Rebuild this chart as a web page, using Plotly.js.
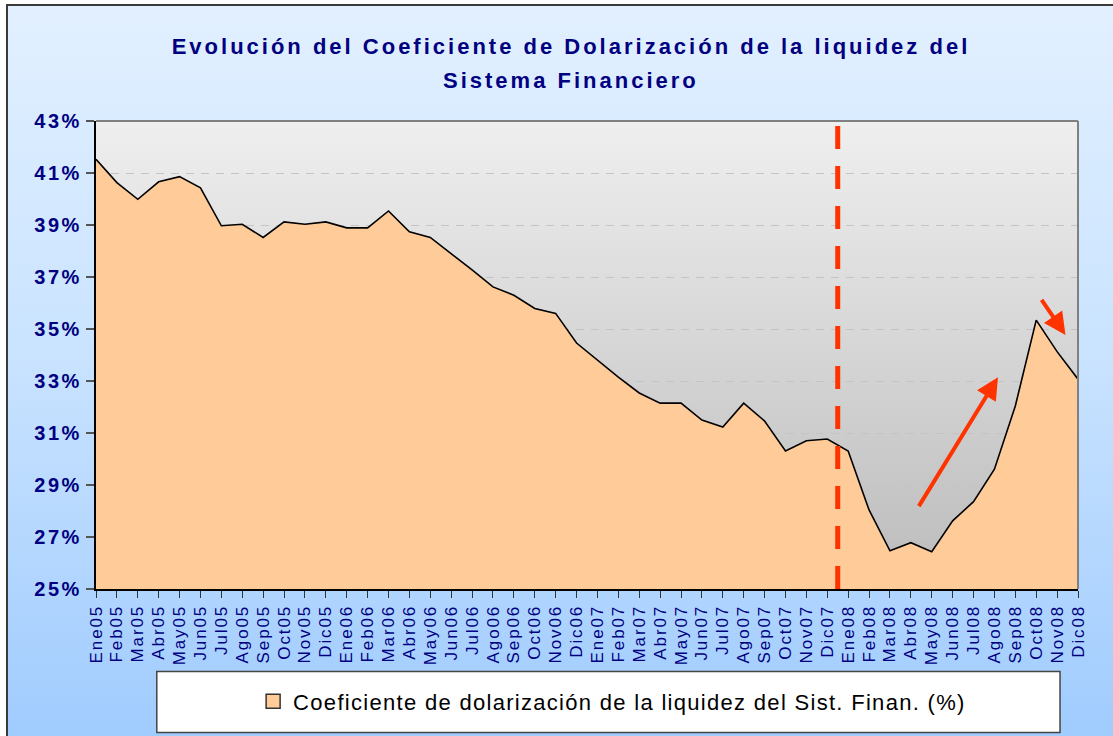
<!DOCTYPE html>
<html>
<head>
<meta charset="utf-8">
<script src="https://cdn.plot.ly/plotly-3.0.1.min.js"></script>
<style>
  html, body { margin: 0; padding: 0; width: 1113px; height: 736px; overflow: hidden; background: #ffffff; }
  #bg { position: absolute; left: 6px; top: 4px; width: 1200px; height: 800px;
        border-left: 2px solid #3a3a3a; border-top: 2px solid #3a3a3a;
        background: linear-gradient(to bottom, #E2F0FF 0px, #C9E3FF 350px, #9FCBFE 740px); }
  #chart { position: absolute; left: 0; top: 0; width: 1113px; height: 736px; }
  .gtitle { letter-spacing: 3px; font-weight: 700 !important; }
  .annotation-text { letter-spacing: 3px; font-weight: 700 !important; }
  .ytick text { letter-spacing: 2.6px; font-weight: 700 !important; }
  .xtick text { letter-spacing: 1.9px; }
  .legendtext { letter-spacing: 1.3px; }
</style>
</head>
<body>
<div id="bg"></div>
<div id="chart"></div>
<script>
const months = ['Ene05','Feb05','Mar05','Abr05','May05','Jun05','Jul05','Ago05','Sep05','Oct05','Nov05','Dic05',
                'Ene06','Feb06','Mar06','Abr06','May06','Jun06','Jul06','Ago06','Sep06','Oct06','Nov06','Dic06',
                'Ene07','Feb07','Mar07','Abr07','May07','Jun07','Jul07','Ago07','Sep07','Oct07','Nov07','Dic07',
                'Ene08','Feb08','Mar08','Abr08','May08','Jun08','Jul08','Ago08','Sep08','Oct08','Nov08','Dic08'];
const coefDolarizacion = [41.53, 40.63, 39.99, 40.66, 40.86, 40.43, 38.97, 39.03, 38.52, 39.12, 39.03, 39.12,
                          38.89, 38.89, 39.54, 38.74, 38.52, 37.91, 37.27, 36.62, 36.30, 35.79, 35.60, 34.46,
                          33.81, 33.15, 32.54, 32.15, 32.15, 31.50, 31.23, 32.15, 31.46, 30.31, 30.70, 30.77,
                          30.31, 28.04, 26.47, 26.78, 26.43, 27.62, 28.36, 29.61, 32.04, 35.34, 34.13, 33.07];
const yTicks = [25, 27, 29, 31, 33, 35, 37, 39, 41, 43];
const yTickLabels = ['25%','27%','29%','31%','33%','35%','37%','39%','41%','43%'];
const seriesName = 'Coeficiente de dolarización de la liquidez del Sist. Finan. (%)';
const titleLine1 = 'Evolución del Coeficiente de Dolarización de la liquidez del';
const titleLine2 = 'Sistema Financiero';

const navy = '#000080';
const font = 'Liberation Sans, Arial, sans-serif';

const gradSvg = '<svg xmlns="http://www.w3.org/2000/svg" width="100" height="100" preserveAspectRatio="none">' +
  '<defs><linearGradient id="g" x1="0" y1="0" x2="0" y2="1">' +
  '<stop offset="0" stop-color="#EFEFEF"/><stop offset="1" stop-color="#BBBBBB"/>' +
  '</linearGradient></defs><rect width="100" height="100" fill="url(#g)"/></svg>';

const traces = [
  {
    x: months, y: coefDolarizacion, type: 'scatter', mode: 'lines',
    fill: 'tozeroy', fillcolor: '#FFCC99',
    line: { color: '#000000', width: 1.6 },
    showlegend: false, hoverinfo: 'skip'
  },
  {
    x: [null], y: [null], type: 'scatter', mode: 'markers', name: seriesName,
    marker: { symbol: 'square', size: 14, color: '#FFCC99', line: { color: '#333333', width: 1.5 } },
    showlegend: true, hoverinfo: 'skip'
  }
];

const layout = {
  width: 1113, height: 736,
  margin: { l: 96, r: 35, t: 121, b: 147 },
  paper_bgcolor: 'rgba(0,0,0,0)',
  plot_bgcolor: 'rgba(0,0,0,0)',
  font: { family: font, color: navy },
  title: {
    text: '<b>' + titleLine1 + '</b>',
    font: { family: font, size: 22, color: navy, weight: 700 },
    xref: 'container', x: 0.513, xanchor: 'center',
    yref: 'container', y: 1 - 46 / 736, yanchor: 'middle'
  },
  annotations: [
    { text: '<b>' + titleLine2 + '</b>', xref: 'paper', yref: 'paper', x: 0.4834, y: 1.0869,
      xanchor: 'center', yanchor: 'middle', showarrow: false,
      font: { family: font, size: 22, color: navy, weight: 700 } },
    { x: 43.17, y: 33.14, ax: 39.34, ay: 28.13, xref: 'x', yref: 'y', axref: 'x', ayref: 'y',
      text: '', showarrow: true, arrowhead: 2, arrowsize: 1.1, arrowwidth: 4, arrowcolor: '#FF3300', standoff: 0 },
    { x: 46.40, y: 34.77, ax: 45.21, ay: 36.18, xref: 'x', yref: 'y', axref: 'x', ayref: 'y',
      text: '', showarrow: true, arrowhead: 2, arrowsize: 1.1, arrowwidth: 4, arrowcolor: '#FF3300', standoff: 0 }
  ],
  xaxis: {
    type: 'category', range: [0, months.length - 1],
    tickangle: -90, tickfont: { family: font, size: 17, color: navy },
    ticks: 'outside', ticklen: 7, tickcolor: '#333333', tickwidth: 1,
    showline: true, linecolor: '#000000', linewidth: 2,
    showgrid: false, zeroline: false, fixedrange: true
  },
  yaxis: {
    range: [25, 43], tickvals: yTicks, ticktext: yTickLabels.map(t => '<b>' + t + '</b>'),
    tickfont: { family: font, size: 20, color: navy, weight: 700 },
    ticks: 'outside', ticklen: 8, tickcolor: '#555555', tickwidth: 1.5,
    showline: true, linecolor: '#000000', linewidth: 2,
    showgrid: true, gridcolor: '#C4C4C4', gridwidth: 1, griddash: '8px,7px',
    zeroline: false, fixedrange: true
  },
  images: [{
    source: 'data:image/svg+xml;charset=utf-8,' + encodeURIComponent(gradSvg),
    xref: 'paper', yref: 'paper', x: 0, y: 1, sizex: 1, sizey: 1,
    xanchor: 'left', yanchor: 'top', sizing: 'stretch', layer: 'below'
  }],
  shapes: [
    { type: 'rect', xref: 'paper', yref: 'paper', x0: 0.0619, x1: 0.9817, y0: -0.3067, y1: -0.1765,
      line: { color: '#444444', width: 1.5 }, fillcolor: '#FFFFFF', layer: 'above' },
    { type: 'line', xref: 'paper', yref: 'paper', x0: 0, x1: 1, y0: 1, y1: 1,
      line: { color: '#808080', width: 2 }, layer: 'above' },
    { type: 'line', xref: 'paper', yref: 'paper', x0: 1, x1: 1, y0: 0, y1: 1,
      line: { color: '#808080', width: 2 }, layer: 'above' },
    { type: 'line', xref: 'x', yref: 'paper', x0: 35.5, x1: 35.5, y0: 0, y1: 1,
      line: { color: '#FF3300', width: 5, dash: '23px,17px' }, layer: 'above' }
  ],
  showlegend: true,
  legend: {
    x: 0.16, xanchor: 'left', y: -0.2405, yanchor: 'middle',
    bgcolor: 'rgba(0,0,0,0)', borderwidth: 0,
    font: { family: font, size: 22, color: '#000000' },
    orientation: 'h'
  }
};

Plotly.newPlot('chart', traces, layout, { displayModeBar: false, staticPlot: true });
</script>
</body>
</html>
